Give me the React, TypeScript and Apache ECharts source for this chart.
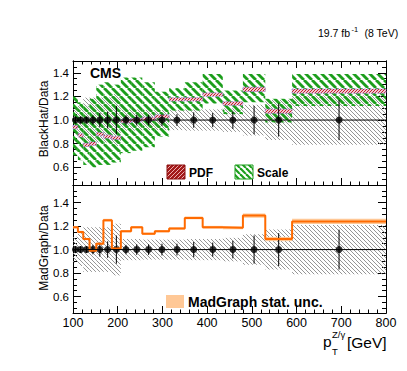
import React, { useEffect, useRef } from 'react';
import * as echarts from 'echarts';

// ---- data ----
const binEdges = [100, 111, 123, 137, 152, 168, 187, 207, 230, 255, 283, 315, 350, 390, 435, 480, 530, 590, 800];
const dataStatErr = [0.03, 0.03, 0.03, 0.04, 0.06, 0.07, 0.12, 0.04, 0.045, 0.045, 0.05, 0.05, 0.065, 0.06, 0.075, 0.12, 0.14, 0.17];
const dataSysErr = [0.11, 0.14, 0.19, 0.19, 0.19, 0.19, 0.22, 0.09, 0.09, 0.085, 0.085, 0.085, 0.09, 0.09, 0.1, 0.13, 0.17, 0.21];
const blackhatRatio = [0.94, 0.87, 0.79, 0.8, 0.88, 0.86, 0.85, 0.99, 1.0, 1.01, 1.03, 1.175, 1.175, 1.215, 1.14, 1.26, 1.075, 1.245];
const pdfHalfWidth = [0.014, 0.014, 0.014, 0.014, 0.014, 0.014, 0.014, 0.014, 0.014, 0.014, 0.014, 0.014, 0.014, 0.015, 0.015, 0.018, 0.018, 0.018];
const scaleLow = [0.7, 0.66, 0.62, 0.6, 0.62, 0.62, 0.64, 0.72, 0.74, 0.77, 0.86, 1.08, 1.08, 1.14, 1.05, 1.15, 0.98, 1.12];
const scaleHigh = [1.2, 1.15, 1.12, 1.18, 1.3, 1.32, 1.3, 1.36, 1.36, 1.32, 1.24, 1.27, 1.32, 1.39, 1.25, 1.39, 1.18, 1.39];
const madgraphRatio = [1.19, 1.15, 1.09, 0.99, 1.05, 1.25, 1.01, 1.157, 1.19, 1.134, 1.157, 1.18, 1.27, 1.19, 1.185, 1.29, 1.09, 1.24];
const madgraphStatErr = [0.01, 0.01, 0.01, 0.01, 0.01, 0.012, 0.012, 0.01, 0.01, 0.01, 0.01, 0.01, 0.012, 0.012, 0.012, 0.018, 0.018, 0.022];
const yTickLabels = [0.6, 0.8, 1.0, 1.2, 1.4];
const dataRatio = 1.0;

const FONT = '"Liberation Sans", Arial, Helvetica, sans-serif';

function hatch(size: number, color: string, lw: number, dir: string, bg?: string) {
  const c = document.createElement('canvas');
  c.width = size;
  c.height = size;
  const ctx = c.getContext('2d')!;
  if (bg) {
    ctx.fillStyle = bg;
    ctx.fillRect(0, 0, size, size);
  }
  ctx.strokeStyle = color;
  ctx.lineWidth = lw;
  for (const o of [-size, 0, size]) {
    ctx.beginPath();
    if (dir === '\\') {
      ctx.moveTo(o, 0);
      ctx.lineTo(o + size, size);
    } else {
      ctx.moveTo(o, size);
      ctx.lineTo(o + size, 0);
    }
    ctx.stroke();
  }
  return { image: c, repeat: 'repeat', imageWidth: size, imageHeight: size } as any;
}

export default function App() {
  const ref = useRef<HTMLDivElement>(null);
  useEffect(() => {
    if (!ref.current) return;
    const chart = echarts.init(ref.current, null, { renderer: 'svg' });

    const grayHatch = hatch(4, '#8a8a8a', 0.9, '\\');
    const greenHatch = hatch(8, '#1c9e1c', 2.9, '\\');
    const redHatch = hatch(3, '#c41e2a', 1, '/', '#f3c6cf');
    const redLegend = hatch(4, '#f4c0c0', 0.9, '/', '#a31a1a');
    const greenLegend = hatch(6, '#1c9e1c', 2.2, '\\', '#ffffff');

    const nb = binEdges.length - 1;
    const bins = Array.from({ length: nb }, (_, i) => i);
    const centers = bins.map((i) => (binEdges[i] + binEdges[i + 1]) / 2);

    const bandRows = (lo: number[], hi: number[]) => bins.map((i) => [binEdges[i], binEdges[i + 1], lo[i], hi[i]]);
    const stepData = (vals: number[]) => [
      ...bins.map((i) => [binEdges[i], vals[i]]),
      [binEdges[nb], vals[nb - 1]],
    ];

    const bandSeries = (xi: number, yi: number, rows: number[][], fill: any, extra: any = {}) => ({
      type: 'custom',
      xAxisIndex: xi,
      yAxisIndex: yi,
      silent: true,
      data: rows,
      renderItem: (params: any, api: any) => {
        const p0 = api.coord([api.value(0), api.value(3)]);
        const p1 = api.coord([api.value(1), api.value(2)]);
        return {
          type: 'rect',
          shape: { x: p0[0], y: p0[1], width: p1[0] - p0[0], height: p1[1] - p0[1] },
          style: { fill, ...extra },
        };
      },
    });

    const errSeries = (xi: number, yi: number) => ({
      type: 'custom',
      xAxisIndex: xi,
      yAxisIndex: yi,
      silent: true,
      data: bins.map((i) => [centers[i], dataRatio - dataStatErr[i], dataRatio + dataStatErr[i]]),
      renderItem: (params: any, api: any) => {
        const a = api.coord([api.value(0), api.value(1)]);
        const b = api.coord([api.value(0), api.value(2)]);
        return {
          type: 'line',
          shape: { x1: a[0], y1: a[1], x2: b[0], y2: b[1] },
          style: { stroke: '#000', lineWidth: 1 },
        };
      },
    });

    const pointSeries = (xi: number, yi: number) => ({
      type: 'scatter',
      xAxisIndex: xi,
      yAxisIndex: yi,
      symbol: 'circle',
      symbolSize: 7,
      itemStyle: { color: '#000' },
      silent: true,
      data: centers.map((c) => [c, dataRatio]),
    });

    const refLine = (xi: number, yi: number) => ({
      type: 'line',
      xAxisIndex: xi,
      yAxisIndex: yi,
      symbol: 'none',
      silent: true,
      lineStyle: { color: '#000', width: 1 },
      data: [[binEdges[0], dataRatio], [binEdges[nb], dataRatio]],
    });

    const yRanges = [[0.45, 1.5], [0.46, 1.55]];
    const minorVals = (r: number[]) => {
      const out: number[] = [];
      for (let k = Math.ceil(r[0] / 0.05 - 1e-6); k * 0.05 <= r[1] + 1e-6; k++) {
        const v = Math.round(k * 5) / 100;
        if (!yTickLabels.some((m) => Math.abs(m - v) < 1e-6)) out.push(v);
      }
      return out;
    };

    const xAxisDef = (gridIndex: number, position: string, showLabel: boolean, showTicks: boolean) => ({
      type: 'value',
      gridIndex,
      position,
      min: 100,
      max: 800,
      interval: 100,
      axisLine: { show: true, onZero: false, lineStyle: { color: '#000', width: 1 } },
      axisTick: { show: showTicks, inside: true, length: 7, lineStyle: { color: '#000', width: 1 } },
      minorTick: { show: showTicks, splitNumber: 5, length: 3.5, lineStyle: { color: '#000', width: 1 } },
      axisLabel: { show: showLabel, color: '#000', fontSize: 12.5, lineHeight: 11, fontFamily: FONT, margin: 4 },
      splitLine: { show: false },
      minorSplitLine: { show: false },
    });

    const yAxisDef = (gridIndex: number, position: string, r: number[], vals: number[], len: number, showLabel: boolean) => ({
      type: 'value',
      gridIndex,
      position,
      min: r[0],
      max: r[1],
      axisLine: { show: true, onZero: false, lineStyle: { color: '#000', width: 1 } },
      axisTick: { show: true, inside: true, length: len, customValues: vals, lineStyle: { color: '#000', width: 1 } },
      axisLabel: {
        show: showLabel,
        customValues: vals,
        formatter: (v: number) => v.toFixed(1),
        color: '#000',
        fontSize: 11.5,
        fontFamily: FONT,
        margin: 4,
      },
      splitLine: { show: false },
    });

    const yAxes: any[] = [];
    [0, 1].forEach((g) => {
      const r = yRanges[g];
      yAxes.push(yAxisDef(g, 'left', r, yTickLabels, 8, true));
      yAxes.push(yAxisDef(g, 'left', r, minorVals(r), 4, false));
      yAxes.push(yAxisDef(g, 'right', r, yTickLabels, 8, false));
      yAxes.push(yAxisDef(g, 'right', r, minorVals(r), 4, false));
    });

    const txt = (x: number, y: number, text: string, font: string, extra: any = {}) => ({
      type: 'text',
      x,
      y,
      z: 100,
      style: { text, font, fill: '#000', align: 'left', verticalAlign: 'middle', ...extra },
    });

    const option: any = {
      animation: false,
      grid: [
        { left: 73, right: 21, top: 61, height: 124 },
        { left: 73, right: 21, top: 185, height: 128 },
      ],
      xAxis: [
        xAxisDef(0, 'bottom', false, true),
        xAxisDef(0, 'top', false, true),
        xAxisDef(1, 'bottom', true, true),
        xAxisDef(1, 'top', false, false),
      ],
      yAxis: yAxes,
      series: [
        // top panel
        bandSeries(0, 0, bandRows(dataSysErr.map((e) => dataRatio - e), dataSysErr.map((e) => dataRatio + e)), grayHatch),
        bandSeries(0, 0, bandRows(scaleLow, scaleHigh), greenHatch),
        bandSeries(
          0,
          0,
          bandRows(blackhatRatio.map((v, i) => v - pdfHalfWidth[i]), blackhatRatio.map((v, i) => v + pdfHalfWidth[i])),
          redHatch,
          { stroke: '#9a86d8', lineWidth: 1, lineDash: [1.5, 1.5] }
        ),
        refLine(0, 0),
        errSeries(0, 0),
        pointSeries(0, 0),
        // bottom panel
        bandSeries(2, 4, bandRows(dataSysErr.map((e) => dataRatio - e), dataSysErr.map((e) => dataRatio + e)), grayHatch),
        bandSeries(
          2,
          4,
          bandRows(madgraphRatio.map((v, i) => v - madgraphStatErr[i]), madgraphRatio.map((v, i) => v + madgraphStatErr[i])),
          '#ffc896'
        ),
        {
          type: 'line',
          xAxisIndex: 2,
          yAxisIndex: 4,
          step: 'end',
          symbol: 'none',
          silent: true,
          lineStyle: { color: '#ff6a00', width: 2 },
          data: stepData(madgraphRatio),
        },
        refLine(2, 4),
        errSeries(2, 4),
        pointSeries(2, 4),
      ],
      graphic: [
        txt(90, 73, 'CMS', `bold 14px ${FONT}`),
        txt(318, 33, '19.7 fb', `10.5px ${FONT}`),
        txt(351.5, 29.5, '-1', `7.5px ${FONT}`),
        txt(364.5, 33, '(8 TeV)', `10.5px ${FONT}`),
        txt(44, 119, 'BlackHat/Data', `12px ${FONT}`, { align: 'center' }),
        txt(44, 248, 'MadGraph/Data', `12px ${FONT}`, { align: 'center' }),
        // x title
        txt(323, 341, 'p', `15.5px ${FONT}`),
        txt(332, 334.5, 'Z/γ', `9.5px ${FONT}`, { lineHeight: 9 }),
        txt(332, 351, 'T', `9.5px ${FONT}`),
        txt(347, 342, '[GeV]', `15.5px ${FONT}`),
        // legends
        { type: 'rect', z: 100, shape: { x: 167, y: 165, width: 18, height: 14 }, style: { fill: redLegend, stroke: '#8b1010', lineWidth: 1 } },
        txt(189, 172.5, 'PDF', `bold 12px ${FONT}`),
        { type: 'rect', z: 100, shape: { x: 235, y: 165, width: 18, height: 14 }, style: { fill: greenLegend, stroke: '#1c9e1c', lineWidth: 1 } },
        txt(257, 172.5, 'Scale', `bold 12px ${FONT}`),
        { type: 'rect', z: 100, shape: { x: 166, y: 295, width: 18, height: 13 }, style: { fill: '#ffc896' } },
        txt(188, 302, 'MadGraph stat. unc.', `bold 14px ${FONT}`),
      ],
    };
    // rotate y titles
    option.graphic[4].rotation = Math.PI / 2;
    option.graphic[5].rotation = Math.PI / 2;

    chart.setOption(option);
    return () => chart.dispose();
  }, []);
  return <div ref={ref} style={{ position: 'absolute', left: 0, top: 0, width: 407, height: 371 }} />;
}
